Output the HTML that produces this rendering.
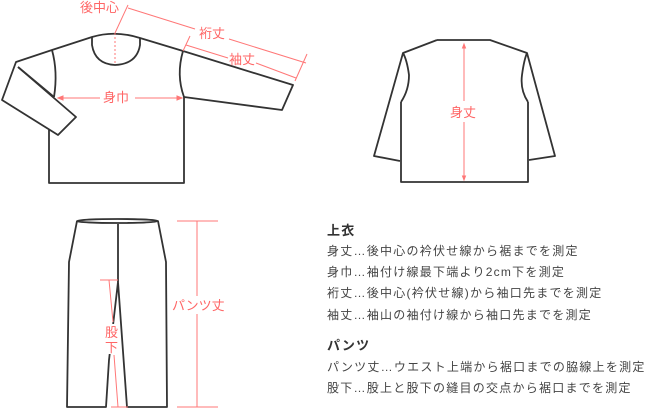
<!DOCTYPE html>
<html><head><meta charset="utf-8"><style>
html,body{margin:0;padding:0;background:#fff;width:660px;height:409px;overflow:hidden}
svg{position:absolute;left:0;top:0}
.t{position:absolute;font-family:"Liberation Sans","Noto Sans CJK JP",sans-serif;color:#444;font-size:12px;letter-spacing:1.25px;white-space:nowrap}
.b{font-weight:bold;font-size:13px;color:#333}
</style></head><body>
<svg width="660" height="409" viewBox="0 0 660 409">
<g fill="none" stroke="#333" stroke-width="1.8" stroke-linejoin="round">
<path d="M49,130 L49,183 L184,183 L184,97 L282,110 L293,85 L183,51 L140,38 Q115,30 92,37 L52,50 L16,62 L2,100 L58,135 L76,117 L18,67"/>
<path d="M18,67 L54,97"/>
<path d="M52,50 Q58,72 54,97"/>
<path d="M183,51 Q176,75 184,97"/>
<path d="M92,37 L92,45 Q95,64 115,65 Q137,64 140,45 L140,38"/>
<path d="M401,102 L401,182 L528,182 L528,102"/>
<path d="M437,40 L490,40 L527,53 L555,156 L529,160 M528,102 Q520,90 522,75 Q524,60 527,53"/>
<path d="M437,40 L403,53 L374,156 L400,161 M401,102 Q409,90 409,75 Q407,60 403,53"/>
<path d="M77,221 L69,262 L67,407 L106,407 L109,360 L118,282 L127,407 L167,407 L166,262 L158,221"/>
<ellipse cx="117.5" cy="221" rx="40.5" ry="2"/>
<path d="M118,224 L118,282"/>
</g>
<g stroke="#f77" stroke-width="1" fill="none">
<path d="M115,33 L115,65" stroke-dasharray="2,2"/>
<path d="M115,33 L128,5"/>
<path d="M128,8 L195,29 M229,39 L306,63"/>
<path d="M307,54 L295,81"/>
<path d="M186,45 L228,58 M256,63 L296,78"/>
<path d="M183,51 L190,36"/>
<path d="M58,98 L100,98 M135,98 L182,98"/>
<path d="M58,98 l5,-2 v4z M182,98 l-5,-2 v4z" fill="#f77"/>
<path d="M464,44 L464,101 M464,122 L464,180"/>
<path d="M464,44 l-1.5,4 h3z M464,180 l-1.5,-4 h3z" fill="#f77"/>
<path d="M177,221 L218,221 M177,407 L218,407 M197,221 L197,296 M197,314 L197,407"/>
<path d="M100,280 L118,280 M109,280 L113,322 M114,355 L118,407 M111,407 L128,407"/>
</g>
<rect x="104" y="324" width="16" height="30" fill="#fff"/>
<g font-family="Liberation Sans,Noto Sans CJK JP,sans-serif" font-size="13" fill="#f66">
<text x="80" y="12">後中心</text>
<text x="199" y="38">裄丈</text>
<text x="229" y="64">袖丈</text>
<text x="103" y="102">身巾</text>
<text x="450" y="117">身丈</text>
<text x="172" y="310">パンツ丈</text>
<text x="105" y="337">股</text>
<text x="105" y="352">下</text>
</g>
</svg>
<div class="t b" style="left:327px;top:220px">上衣</div>
<div class="t" style="left:327px;top:242px">身丈…後中心の衿伏せ線から裾までを測定</div>
<div class="t" style="left:327px;top:263px">身巾…袖付け線最下端より2cm下を測定</div>
<div class="t" style="left:327px;top:284px">裄丈…後中心(衿伏せ線)から袖口先までを測定</div>
<div class="t" style="left:327px;top:306px">袖丈…袖山の袖付け線から袖口先までを測定</div>
<div class="t b" style="left:327px;top:335px">パンツ</div>
<div class="t" style="left:327px;top:358px">パンツ丈…ウエスト上端から裾口までの脇線上を測定</div>
<div class="t" style="left:327px;top:379px">股下…股上と股下の縫目の交点から裾口までを測定</div>
</body></html>
